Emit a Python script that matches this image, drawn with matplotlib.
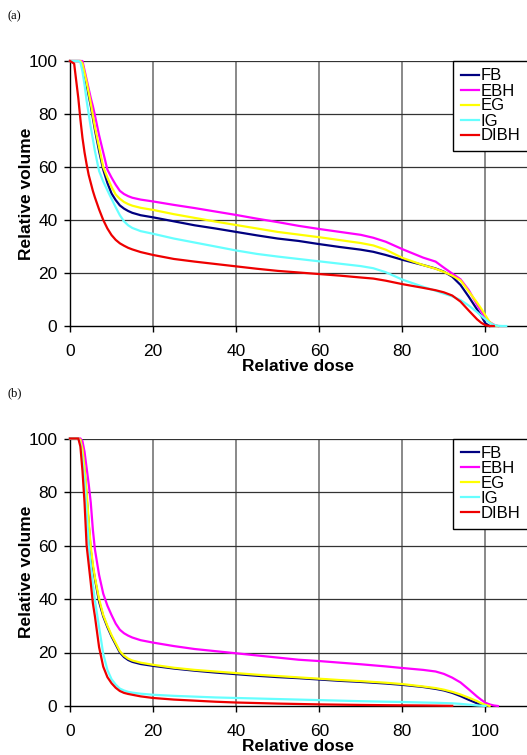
import numpy as np
import matplotlib
matplotlib.use('Agg')
from matplotlib import pyplot as plt

nan = np.nan

# dose grid shared by all curves
dose = [0, 1, 2, 2.5, 3, 3.5, 4, 4.5, 5, 5.5, 6, 7, 8, 9, 10, 11, 12, 13, 14, 15,
        17, 20, 25, 30, 35, 40, 45, 50, 55, 60, 65, 70, 73, 76, 80, 85, 88, 90,
        92, 94, 96, 98, 99, 100, 101, 102, 103, 104, 105]

series_names = ['FB', 'EBH', 'EG', 'IG', 'DIBH']
series_colors = ['#000080', '#FF00FF', '#FFFF00', '#66FFFF', '#EE0000']

# panel (a)
fb_a = [100, 100, 100, 100, 99, 95, 91, 87, 83, 78.5, 74, 66, 59, 54, 50, 47.5, 45.5, 44.3, 43.4, 42.7,
        41.8, 41, 39.5, 38, 36.8, 35.5, 34.2, 33, 32.1, 30.9, 29.8, 28.8, 28, 26.8, 25, 23, 21.7, 20.5,
        18.6, 15.5, 11, 6.2, 3.8, 1, 0, nan, nan, nan, nan]
ebh_a = [100, 100, 100, 100, 100, 96.5, 93, 89.5, 86, 83, 79.5, 72, 65.5, 59, 56, 53.3, 51, 49.8, 49, 48.4,
         47.7, 47, 45.7, 44.5, 43.2, 41.9, 40.5, 39.2, 37.8, 36.6, 35.5, 34.4, 33.3, 31.8, 29, 25.8, 24.3, 22,
         19.8, 17.6, 13.5, 8, 5.5, 3, 1.5, 0.5, 0, nan, nan]
eg_a = [100, 100, 100, 100, 99, 95.5, 92, 88, 84, 79.5, 75, 67.5, 60, 56, 52.5, 49.6, 48, 46.8, 46, 45.4,
        44.6, 43.8, 42.2, 40.8, 39.4, 38.1, 36.8, 35.5, 34.5, 33.5, 32.4, 31.3, 30.4, 28.8, 25.7, 23, 21.6, 20.4,
        19, 17.2, 13, 8.8, 6.5, 4, 1.5, 0.3, 0, nan, nan]
ig_a = [100, 100, 100, 99.5, 96, 91, 85, 80, 75, 70.5, 66, 58.5, 54.5, 51.2, 48, 44.8, 41.8, 39.5, 38, 37,
        35.8, 34.8, 33, 31.5, 30, 28.5, 27.2, 26.2, 25.3, 24.4, 23.5, 22.6, 21.8, 20.3, 17.5, 14.8, 13.3, 12.2,
        11.2, 9.8, 7.7, 5.2, 3.8, 2.5, 1.2, 0.4, 0.1, 0, 0]
dibh_a = [100, 99, 86, 78, 71, 65.5, 61, 57, 54, 51, 48.5, 44, 40, 36.8, 34.3, 32.5, 31.2, 30.3, 29.5, 28.9,
          27.9, 26.8, 25.3, 24.3, 23.4, 22.5, 21.6, 20.8, 20.2, 19.6, 19, 18.3, 17.9, 17.1, 15.8, 14.4, 13.5, 12.7,
          11.5, 9.2, 5.8, 2.5, 1.2, 0.3, 0, 0, nan, nan, nan]

# panel (b)
fb_b = [100, 100, 100, 99, 95, 88, 78, 68, 58, 52, 47.5, 39, 33.5, 29.5, 26, 23, 20, 18.3, 17.2, 16.5,
        15.7, 15, 14, 13.2, 12.5, 11.9, 11.3, 10.8, 10.4, 9.9, 9.4, 9, 8.7, 8.4, 7.9, 7.1, 6.4, 5.8,
        4.9, 3.7, 2.3, 1, 0.4, 0, nan, nan, nan, nan, nan]
ebh_b = [100, 100, 100, 100, 99, 95, 89, 83, 76, 66, 58.5, 49, 42, 37.5, 34, 30.8, 28.5, 27.2, 26.3, 25.6,
         24.6, 23.7, 22.4, 21.3, 20.5, 19.7, 18.9, 18.1, 17.3, 16.8, 16.2, 15.6, 15.2, 14.8, 14.2, 13.5, 12.9, 12,
         10.6, 8.8, 6.2, 3.5, 2.3, 1.2, 0.6, 0.2, 0, nan, nan]
eg_b = [100, 100, 100, 99.5, 96, 89, 80, 69, 59.5, 53, 48, 40, 34, 30, 26.5, 23.5, 20.5, 18.8, 17.7, 17,
        16.2, 15.4, 14.3, 13.5, 12.9, 12.3, 11.7, 11.2, 10.7, 10.2, 9.7, 9.3, 9, 8.7, 8.2, 7.3, 6.7, 6.1,
        5.3, 4.3, 3.1, 1.8, 1, 0.4, 0, nan, nan, nan, nan]
ig_b = [100, 100, 100, 98, 92, 84, 72, 60, 52, 45.5, 39.5, 29.5, 19.5, 13.5, 10, 8, 6.5, 5.8, 5.3, 5,
        4.6, 4.2, 3.8, 3.5, 3.2, 3, 2.8, 2.6, 2.4, 2.2, 2, 1.8, 1.7, 1.6, 1.5, 1.3, 1.2, 1.1,
        1, 0.8, 0.5, 0.2, 0.1, 0, nan, nan, nan, nan, nan]
dibh_b = [100, 100, 100, 97, 88, 76, 60, 53, 46, 38.5, 33.5, 22, 14.7, 10.8, 8.5, 6.8, 5.6, 4.9, 4.5, 4.2,
          3.6, 3, 2.4, 2, 1.6, 1.3, 1.1, 0.9, 0.75, 0.6, 0.5, 0.4, 0.35, 0.3, 0.25, 0.2, 0.15, 0.1,
          0.05, nan, nan, nan, nan, nan, nan, nan, nan, nan, nan]

panels = [
    ('(a)', [fb_a, ebh_a, eg_a, ig_a, dibh_a], 61, 326),
    ('(b)', [fb_b, ebh_b, eg_b, ig_b, dibh_b], 438.5, 706),
]

W, H = 527, 755
plt.rcParams['font.family'] = ['Liberation Sans', 'DejaVu Sans']
fig = plt.figure(figsize=(W / 100, H / 100), dpi=100)

for tag, curves, top_px, bot_px in panels:
    ax = fig.add_axes([70 / W, 1 - bot_px / H, 1 - 70 / W, (bot_px - top_px) / H])
    ax.set_xlim(0, 110)
    ax.set_ylim(0, 100)
    ax.set_xticks(np.arange(0, 101, 20))
    ax.set_yticks(np.arange(0, 101, 20))
    for x in range(20, 101, 20):
        ax.axvline(x, color='#808080', lw=1.3, zorder=1)
    for y in range(20, 101, 20):
        ax.axhline(y, color='#333333', lw=0.9, zorder=1)
    for vals, name, col in zip(curves, series_names, series_colors):
        ax.plot(dose, vals, color=col, lw=1.6, label=name, zorder=3, clip_on=False)
    for s in ['top', 'right']:
        ax.spines[s].set_visible(False)
    for s in ['left', 'bottom']:
        ax.spines[s].set_color('black')
        ax.spines[s].set_linewidth(1.0)
        ax.spines[s].set_zorder(2)
    ax.tick_params(axis='x', length=4, width=1, pad=9, labelsize=12.5)
    ax.tick_params(axis='y', length=4, width=1, pad=5, labelsize=12.5)
    ax.set_xlabel('Relative dose', fontsize=12.5, fontweight='bold', labelpad=0)
    ax.set_ylabel('Relative volume', fontsize=12.5, fontweight='bold', labelpad=-4)
    leg = ax.legend(loc='upper left', bbox_to_anchor=(453 / W, 1 - top_px / H),
                    bbox_transform=fig.transFigure, borderaxespad=0, fancybox=False,
                    framealpha=1, edgecolor='black', fontsize=12, handlelength=1.1,
                    handletextpad=0.1, labelspacing=0.0, borderpad=0.45)
    leg.get_frame().set_linewidth(1.0)
    fig.text(8 / W, 1 - (top_px - 45) / H, tag, fontsize=9, family='Liberation Serif',
             va='center', ha='left')

fig.savefig('out.png', dpi=100)
